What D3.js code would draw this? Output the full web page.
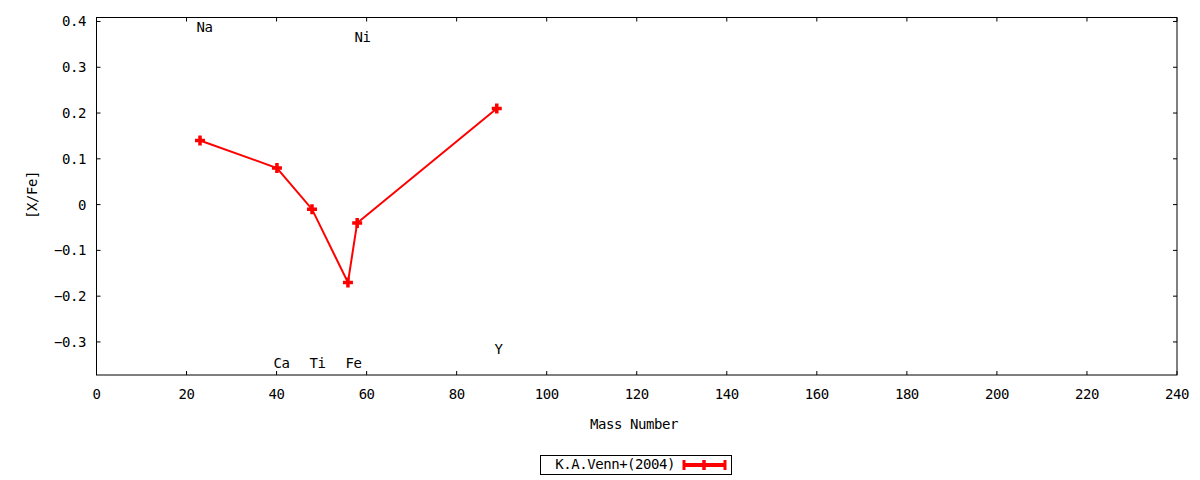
<!DOCTYPE html>
<html><head><meta charset="utf-8">
<script src="https://cdn.jsdelivr.net/npm/d3@7"></script>
<style>body{margin:0;background:#fff}svg{display:block}text{font-family:"DejaVu Sans Mono",monospace;font-size:14px;letter-spacing:-0.45px;fill:#000}</style>
</head><body>
<svg id="c" width="1200" height="480"></svg>
<script>
const elements = ["Na","Ca","Ti","Fe","Ni","Y"];
const massNumbers = [22.99,40.08,47.87,55.85,57.9,88.91];
const xfeValues = [0.14,0.08,-0.01,-0.17,-0.04,0.21];
const labelMass = [24.0,41.1,49.1,57.1,59.1,89.3];
const labelValue = [0.388,-0.346,-0.346,-0.346,0.366,-0.316];
const xTicks = [0,20,40,60,80,100,120,140,160,180,200,220,240];
const yTicks = [-0.3,-0.2,-0.1,0,0.1,0.2,0.3,0.4];
const seriesName = "K.A.Venn+(2004)";

const svg = d3.select("#c");
const L=96.5,R=1177,T=17.5,B=375;
const x = d3.scaleLinear().domain([0,240]).range([L,R]);
const y = d3.scaleLinear().domain([-0.3722,0.4087]).range([B,T]);

const tk=4;
const g=svg.append("g");
xTicks.forEach(v=>{
  g.append("line").attr("x1",x(v)).attr("x2",x(v)).attr("y1",B).attr("y2",B-tk).attr("stroke","#000");
  g.append("line").attr("x1",x(v)).attr("x2",x(v)).attr("y1",T).attr("y2",T+tk).attr("stroke","#000");
  g.append("text").attr("x",x(v)).attr("y",399).attr("text-anchor","middle").text(d3.format("d")(v));
});
yTicks.forEach(v=>{
  g.append("line").attr("x1",L).attr("x2",L+tk).attr("y1",y(v)).attr("y2",y(v)).attr("stroke","#000");
  g.append("line").attr("x1",R).attr("x2",R-tk).attr("y1",y(v)).attr("y2",y(v)).attr("stroke","#000");
  g.append("text").attr("x",86).attr("y",y(v)+5).attr("text-anchor","end").text(v===0?"0":d3.format(".1f")(v));
});
svg.append("rect").attr("x",L).attr("y",T).attr("width",R-L).attr("height",B-T)
  .attr("fill","none").attr("stroke","#000").attr("stroke-width",1);

svg.append("text").attr("x",634).attr("y",429).attr("text-anchor","middle").text("Mass Number");
svg.append("text").attr("transform","translate(37,195) rotate(-90)").attr("text-anchor","middle").text("[X/Fe]");

elements.forEach((e,i)=>{
  svg.append("text").attr("x",x(labelMass[i])).attr("y",y(labelValue[i])+5).attr("text-anchor","middle").text(e);
});

const pts = massNumbers.map((m,i)=>[m,xfeValues[i]]);
const red="#ff0000";
svg.append("path").datum(pts).attr("fill","none").attr("stroke",red).attr("stroke-width",2)
  .attr("d",d3.line().x(d=>x(d[0])).y(d=>y(d[1])));
function plus(cx,cy){
  svg.append("path").attr("d",`M${cx-5},${cy}H${cx+5}M${cx},${cy-5}V${cy+5}`)
    .attr("stroke",red).attr("stroke-width",3.5).attr("fill","none");
}
pts.forEach(d=>plus(x(d[0]),y(d[1])));

svg.append("rect").attr("x",540.5).attr("y",455.5).attr("width",191).attr("height",19).attr("fill","none").attr("stroke","#000");
svg.append("text").attr("x",675).attr("y",469).attr("text-anchor","end").text(seriesName);
svg.append("line").attr("x1",683).attr("x2",725).attr("y1",465).attr("y2",465).attr("stroke",red).attr("stroke-width",4);
[684,725].forEach(cx=>svg.append("line").attr("x1",cx).attr("x2",cx).attr("y1",460).attr("y2",470).attr("stroke",red).attr("stroke-width",3));
plus(704,465);
</script>
</body></html>
